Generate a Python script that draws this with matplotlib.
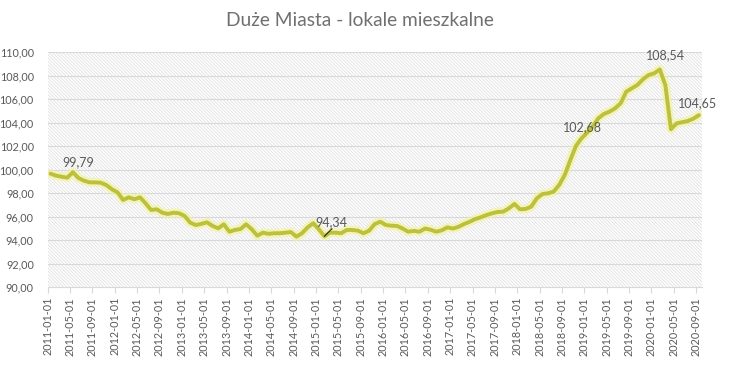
import matplotlib
matplotlib.use("Agg")
import matplotlib.pyplot as plt
from matplotlib.patches import Rectangle
import pandas as pd
import numpy as np

title = "Duże Miasta - lokale mieszkalne"
dates = pd.date_range("2011-01-01", "2020-09-01", freq="MS").strftime("%Y-%m-%d").tolist()
values = [
    99.67, 99.50, 99.41, 99.33, 99.79, 99.30, 99.07, 98.93, 98.93, 98.90,
    98.70, 98.34, 98.08, 97.43, 97.66, 97.49, 97.66, 97.15, 96.58, 96.64,
    96.35, 96.24, 96.35, 96.30, 96.07, 95.50, 95.30, 95.40, 95.53, 95.22,
    95.02, 95.36, 94.73, 94.88, 94.96, 95.36, 94.94, 94.39, 94.65, 94.55,
    94.60, 94.60, 94.65, 94.70, 94.31, 94.60, 95.10, 95.45, 94.94, 94.34,
    94.65, 94.65, 94.60, 94.88, 94.88, 94.82, 94.60, 94.82, 95.38, 95.58,
    95.30, 95.24, 95.22, 95.00, 94.73, 94.80, 94.73, 95.00, 94.90, 94.73,
    94.85, 95.10, 95.00, 95.15, 95.39, 95.58, 95.81, 95.96, 96.15, 96.30,
    96.41, 96.44, 96.72, 97.09, 96.64, 96.67, 96.86, 97.57, 97.94, 98.00,
    98.14, 98.71, 99.56, 100.83, 102.03, 102.68, 103.16, 103.70, 104.38, 104.75,
    104.95, 105.23, 105.66, 106.65, 106.94, 107.22, 107.70, 108.07, 108.21, 108.54,
    107.20, 103.45, 103.95, 104.05, 104.15, 104.35, 104.65,
]
labelled_idx = [4, 49, 95, 109, 116]
label_offsets = {4: (4, 7), 49: (5, 10), 95: (1, 8), 109: (4, 10), 116: (-1, 9)}
yticks = [90, 92, 94, 96, 98, 100, 102, 104, 106, 108, 110]

plt.rcParams['font.family'] = ['Lato', 'DejaVu Sans']
plt.rcParams['hatch.linewidth'] = 0.5
plt.rcParams['hatch.color'] = '#dadada'
txt = '#595959'

fig = plt.figure(figsize=(7.33, 3.79), dpi=100)
ax = fig.add_axes([47.7/733, 1-287.3/379, (701.7-47.7)/733, (287.3-52.3)/379])

n = len(values)
x = np.arange(n) + 0.5

ax.add_patch(Rectangle((0, 0), 1, 1, transform=ax.transAxes, facecolor='white',
                       edgecolor='#dadada', linewidth=0, hatch='\\' * 10, zorder=0))

for yv in yticks[1:]:
    ax.axhline(yv, color='#d9d9d9', lw=0.8, zorder=1)

ax.plot(x, values, color='#f2f29a', lw=6.5, alpha=0.6, solid_capstyle='round', zorder=2)
ax.plot(x, values, color='#bcc03a', lw=2.8, solid_capstyle='round', solid_joinstyle='round', zorder=3)

ax.set_xlim(0, n)
ax.set_ylim(90, 110)
ax.set_yticks(yticks)
ax.set_yticklabels([f"{v:.2f}".replace('.', ',') for v in yticks], fontsize=7.8, color=txt)
tick_pos = list(range(0, n, 4))
ax.set_xticks(tick_pos)
ax.set_xticklabels([dates[i] for i in tick_pos], rotation=90, fontsize=7.8, color=txt)
ax.tick_params(axis='y', length=0, pad=10)
ax.tick_params(axis='x', length=4, color='#d9d9d9', pad=3)
for s in ['top', 'right', 'left']:
    ax.spines[s].set_visible(False)
ax.spines['bottom'].set_color('#d9d9d9')
ax.spines['bottom'].set_linewidth(0.8)

for i in labelled_idx:
    dx, dy = label_offsets[i]
    lab = f"{values[i]:.2f}".replace('.', ',')
    ax.annotate(lab, (x[i], values[i]), xytext=(dx, dy), textcoords='offset points',
                ha='center', va='center', fontsize=9, color=txt, zorder=5, annotation_clip=False)
# leader line for 94,34
ax.annotate('', (x[49], values[49]), xytext=(5.5, 5.5), textcoords='offset points',
            arrowprops=dict(arrowstyle='-', color='#222222', lw=0.8, shrinkA=0, shrinkB=0))

fig.text(360/733, 1-21/379, title, ha='center', va='center', fontsize=13.8, color='#707070')

fig.savefig("out.png", dpi=100)
